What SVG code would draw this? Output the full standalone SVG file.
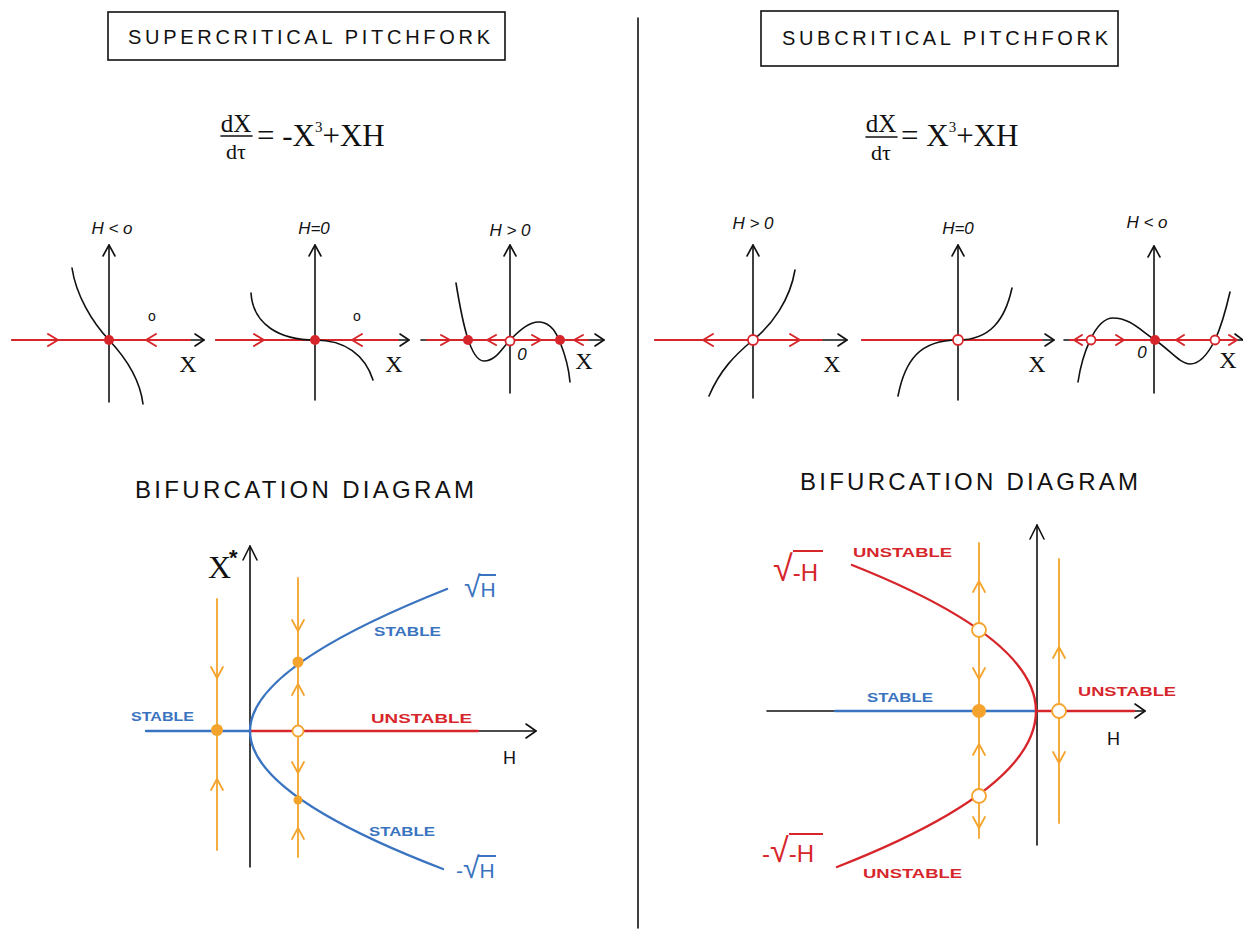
<svg xmlns="http://www.w3.org/2000/svg" width="1243" height="929" viewBox="0 0 1243 929">
<style>
.k{fill:none;stroke:#111;stroke-width:1.6;stroke-linecap:round;stroke-linejoin:round}
.r{fill:none;stroke:#d7262b;stroke-width:2;stroke-linecap:round;stroke-linejoin:round}
.b{fill:none;stroke:#3a74c0;stroke-width:2.4;stroke-linecap:round}
.rr{fill:none;stroke:#d7262b;stroke-width:2.4;stroke-linecap:round}
.o{fill:none;stroke:#f4a32c;stroke-width:1.8;stroke-linecap:round;stroke-linejoin:round}
.rd{fill:#d7262b}
.ro{fill:#fff;stroke:#d7262b;stroke-width:1.8}
.od{fill:#f4a32c}
.oo{fill:#fff;stroke:#f4a32c;stroke-width:1.8}
.t{font-family:"Liberation Sans",Arial,sans-serif;fill:#111}
.hl{font-family:"Liberation Sans",Arial,sans-serif;font-style:italic;font-size:17px;fill:#111;text-anchor:middle}
.sx{font-family:"Liberation Serif","Times New Roman",serif;font-size:24px;fill:#111;text-anchor:middle}
.eq{font-family:"Liberation Serif","Times New Roman",serif;fill:#111}
.lb{font-family:"Liberation Sans",Arial,sans-serif;font-size:13px;font-weight:bold}
.bl{fill:#3a74c0}
.re{fill:#d7262b}
.vb{stroke:#3a74c0;stroke-width:2}
.vr{stroke:#d7262b;stroke-width:2}
</style>

<g id="divider"><line class="k" x1="638" y1="18" x2="638" y2="928"/></g>

<g id="title-super">
<rect x="108" y="12" width="397" height="48" fill="none" stroke="#111" stroke-width="1.6"/>
<text class="t" x="128" y="44" font-size="20" textLength="362" lengthAdjust="spacing">SUPERCRITICAL   PITCHFORK</text>
</g>
<g id="title-sub">
<rect x="761" y="11" width="357" height="55" fill="none" stroke="#111" stroke-width="1.6"/>
<text class="t" x="782" y="45" font-size="20" textLength="326" lengthAdjust="spacing">SUBCRITICAL   PITCHFORK</text>
</g>

<g id="eq-super">
<text class="eq" x="236" y="132" font-size="25" text-anchor="middle">dX</text>
<line class="k" x1="221" y1="136" x2="252" y2="136"/>
<text class="eq" x="236" y="159" font-size="22" text-anchor="middle">dτ</text>
<text class="eq" x="257" y="146" font-size="31">= -X<tspan font-size="15" dy="-14">3</tspan><tspan dy="14">+XH</tspan></text>
</g>
<g id="eq-sub">
<text class="eq" x="881" y="132" font-size="25" text-anchor="middle">dX</text>
<line class="k" x1="866" y1="137" x2="897" y2="137"/>
<text class="eq" x="881" y="160" font-size="22" text-anchor="middle">dτ</text>
<text class="eq" x="901" y="146" font-size="31">= X<tspan font-size="15" dy="-14">3</tspan><tspan dy="14">+XH</tspan></text>
</g>

<!-- small phase plots: left -->
<g id="plot1">
<text class="hl" x="112" y="234">H &lt; o</text>
<line class="k" x1="109" y1="402" x2="109" y2="245"/><path class="k" d="M103,256 L109,245 L115,256"/>
<line class="k" x1="12" y1="340" x2="204" y2="340"/><path class="k" d="M195,334 L204,340 L195,346"/>
<line class="r" x1="12" y1="340" x2="190" y2="340"/>
<path class="r" d="M48,334 L58,340 L48,346"/>
<path class="r" d="M156,334 L146,340 L156,346"/>
<path class="k" d="M72,268 C76,295 92,322 109,340 C126,358 140,380 143,404"/>
<circle class="rd" cx="109" cy="340" r="5"/>
<text class="t" x="152" y="321" font-size="14" text-anchor="middle">o</text>
<text class="sx" x="188" y="372">X</text>
</g>
<g id="plot2">
<text class="hl" x="314" y="234">H=0</text>
<line class="k" x1="315" y1="400" x2="315" y2="245"/><path class="k" d="M309,256 L315,245 L321,256"/>
<line class="k" x1="216" y1="340" x2="409" y2="340"/><path class="k" d="M400,334 L409,340 L400,346"/>
<line class="r" x1="216" y1="340" x2="398" y2="340"/>
<path class="r" d="M254,334 L264,340 L254,346"/>
<path class="r" d="M362,334 L352,340 L362,346"/>
<path class="k" d="M251,293 C253,325 280,340 315,340 C345,340 365,355 373,380"/>
<circle class="rd" cx="315" cy="340" r="5"/>
<text class="t" x="357" y="321" font-size="14" text-anchor="middle">o</text>
<text class="sx" x="394" y="372">X</text>
</g>
<g id="plot3">
<text class="hl" x="510" y="236">H &gt; 0</text>
<line class="k" x1="510" y1="393" x2="510" y2="245"/><path class="k" d="M504,256 L510,245 L516,256"/>
<line class="k" x1="421" y1="340" x2="604" y2="340"/><path class="k" d="M595,334 L604,340 L595,346"/>
<line class="r" x1="427" y1="340" x2="588" y2="340"/>
<path class="r" d="M441,335 L450,340 L441,345"/>
<path class="r" d="M496,335 L487,340 L496,345"/>
<path class="r" d="M532,335 L541,340 L532,345"/>
<path class="r" d="M583,335 L574,340 L583,345"/>
<path class="k" d="M456,283 C462,320 470,361 484,361 C496,361 502,348 510,340 C520,330 530,321 540,322 C552,323 557,335 560,342 C566,357 569,370 570,382"/>
<circle class="rd" cx="468" cy="340" r="5"/>
<circle class="ro" cx="510" cy="341" r="4.5"/>
<circle class="rd" cx="560" cy="340" r="5"/>
<text class="hl" x="522" y="360" font-size="15">0</text>
<text class="sx" x="584" y="369">X</text>
</g>

<!-- small phase plots: right -->
<g id="plot4">
<text class="hl" x="753" y="229">H &gt; 0</text>
<line class="k" x1="753" y1="398" x2="753" y2="245"/><path class="k" d="M747,256 L753,245 L759,256"/>
<line class="k" x1="655" y1="340" x2="847" y2="340"/><path class="k" d="M838,334 L847,340 L838,346"/>
<line class="r" x1="655" y1="340" x2="822" y2="340"/>
<path class="r" d="M713,334 L703,340 L713,346"/>
<path class="r" d="M790,334 L800,340 L790,346"/>
<path class="k" d="M709,396 C720,370 735,355 753,340 C772,325 790,300 795,270"/>
<circle class="ro" cx="753" cy="340" r="5"/>
<text class="sx" x="832" y="372">X</text>
</g>
<g id="plot5">
<text class="hl" x="958" y="234">H=0</text>
<line class="k" x1="958" y1="400" x2="958" y2="245"/><path class="k" d="M952,256 L958,245 L964,256"/>
<line class="k" x1="862" y1="340" x2="1054" y2="340"/><path class="k" d="M1045,334 L1054,340 L1045,346"/>
<line class="r" x1="862" y1="340" x2="1042" y2="340"/>
<path class="k" d="M898,396 C905,360 920,340 958,340 C990,340 1005,320 1012,288"/>
<circle class="ro" cx="958" cy="340" r="5"/>
<text class="sx" x="1037" y="372">X</text>
</g>
<g id="plot6">
<text class="hl" x="1147" y="228">H &lt; o</text>
<line class="k" x1="1154" y1="393" x2="1154" y2="246"/><path class="k" d="M1148,257 L1154,246 L1160,257"/>
<line class="k" x1="1064" y1="340" x2="1243" y2="340"/><path class="k" d="M1235,334 L1243,340"/>
<line class="r" x1="1070" y1="340" x2="1236" y2="340"/>
<path class="r" d="M1082,335 L1074,340 L1082,345"/>
<path class="r" d="M1116,335 L1124,340 L1116,345"/>
<path class="r" d="M1184,335 L1176,340 L1184,345"/>
<path class="r" d="M1229,335 L1237,340 L1229,345"/>
<path class="k" d="M1078,382 C1082,355 1095,318 1113,318 C1130,318 1140,330 1155,340 C1170,350 1180,364 1190,364 C1202,364 1210,350 1215,340 C1222,325 1227,305 1230,292"/>
<circle class="ro" cx="1091" cy="340" r="4.5"/>
<circle class="rd" cx="1155" cy="340" r="5"/>
<circle class="ro" cx="1215" cy="340" r="4.5"/>
<text class="hl" x="1142" y="358" font-size="15">0</text>
<text class="sx" x="1228" y="368">X</text>
</g>

<g id="bif-title-left"><text class="t" x="135" y="498" font-size="24" textLength="339" lengthAdjust="spacing">BIFURCATION   DIAGRAM</text></g>
<g id="bif-title-right"><text class="t" x="800" y="490" font-size="24" textLength="338" lengthAdjust="spacing">BIFURCATION   DIAGRAM</text></g>

<!-- left bifurcation diagram -->
<g id="bif-left">
<line class="k" x1="250" y1="867" x2="250" y2="546"/><path class="k" d="M243,560 L250,546 L257,560"/>
<line class="k" x1="250" y1="731" x2="536" y2="731"/><path class="k" d="M526,724 L536,731 L526,738"/>
<text class="eq" x="208" y="578" font-size="32">X</text>
<text class="t" x="229" y="565" font-size="22" font-weight="bold">*</text>
<text class="t" x="503" y="764" font-size="18">H</text>
<line class="b" x1="146" y1="731" x2="250" y2="731"/>
<line class="rr" x1="250" y1="731" x2="478" y2="731"/>
<path class="b" d="M447,589 Q250,667 250,731 Q250,795 443,869"/>
<g id="orange-left">
<line class="o" x1="217" y1="599" x2="217" y2="850"/>
<path class="o" d="M211,667 L217,678 L223,667"/>
<path class="o" d="M211,790 L217,779 L223,790"/>
<line class="o" x1="298" y1="578" x2="298" y2="857"/>
<path class="o" d="M292,620 L298,631 L304,620"/>
<path class="o" d="M292,695 L298,684 L304,695"/>
<path class="o" d="M292,762 L298,773 L304,762"/>
<path class="o" d="M292,839 L298,828 L304,839"/>
<circle class="od" cx="217" cy="730" r="6"/>
<circle class="od" cx="298" cy="662" r="5.5"/>
<circle class="oo" cx="298" cy="731" r="5.5"/>
<circle class="od" cx="298" cy="800" r="4.5"/>
</g>
<text class="lb bl" x="131" y="721" textLength="63" lengthAdjust="spacingAndGlyphs">STABLE</text>
<text class="lb bl" x="374" y="636" textLength="67" lengthAdjust="spacingAndGlyphs">STABLE</text>
<text class="lb re" x="371" y="723" textLength="101" lengthAdjust="spacingAndGlyphs">UNSTABLE</text>
<text class="lb bl" x="369" y="836" textLength="66" lengthAdjust="spacingAndGlyphs">STABLE</text>
<text class="t bl" x="464" y="597"><tspan font-size="30">√</tspan><tspan font-size="21">H</tspan></text>
<line class="vb" x1="479" y1="575" x2="496" y2="575"/>
<text class="t bl" x="456" y="878"><tspan font-size="21">-</tspan><tspan font-size="30">√</tspan><tspan font-size="21">H</tspan></text>
<line class="vb" x1="478" y1="856" x2="496" y2="856"/>
</g>

<!-- right bifurcation diagram -->
<g id="bif-right">
<line class="k" x1="1037" y1="845" x2="1037" y2="525"/><path class="k" d="M1030,539 L1037,525 L1044,539"/>
<line class="k" x1="767" y1="711" x2="1145" y2="711"/><path class="k" d="M1135,704 L1145,711 L1135,718"/>
<text class="t" x="1107" y="745" font-size="18">H</text>
<line class="b" x1="835" y1="711" x2="1036" y2="711"/>
<line class="rr" x1="1037" y1="711" x2="1134" y2="711"/>
<path class="rr" d="M852,565 Q1036,638 1036,711 Q1036,789 837,867"/>
<g id="orange-right">
<line class="o" x1="979" y1="543" x2="979" y2="838"/>
<path class="o" d="M973,592 L979,581 L985,592"/>
<path class="o" d="M973,668 L979,679 L985,668"/>
<path class="o" d="M973,755 L979,744 L985,755"/>
<path class="o" d="M973,817 L979,828 L985,817"/>
<line class="o" x1="1059" y1="559" x2="1059" y2="823"/>
<path class="o" d="M1053,658 L1059,647 L1065,658"/>
<path class="o" d="M1053,752 L1059,763 L1065,752"/>
<circle class="oo" cx="979" cy="630" r="7"/>
<circle class="od" cx="979" cy="711" r="7"/>
<circle class="oo" cx="979" cy="796" r="7"/>
<circle class="oo" cx="1059" cy="711" r="7"/>
</g>
<text class="lb re" x="853" y="557" textLength="99" lengthAdjust="spacingAndGlyphs">UNSTABLE</text>
<text class="lb bl" x="867" y="702" textLength="66" lengthAdjust="spacingAndGlyphs">STABLE</text>
<text class="lb re" x="1078" y="696" textLength="98" lengthAdjust="spacingAndGlyphs">UNSTABLE</text>
<text class="lb re" x="863" y="878" textLength="99" lengthAdjust="spacingAndGlyphs">UNSTABLE</text>
<text class="t re" x="773" y="581"><tspan font-size="36">√</tspan><tspan font-size="24">-H</tspan></text>
<line class="vr" x1="793" y1="551" x2="823" y2="551"/>
<text class="t re" x="762" y="862"><tspan font-size="24">-</tspan><tspan font-size="34">√</tspan><tspan font-size="24">-H</tspan></text>
<line class="vr" x1="789" y1="834" x2="823" y2="834"/>
</g>
</svg>
